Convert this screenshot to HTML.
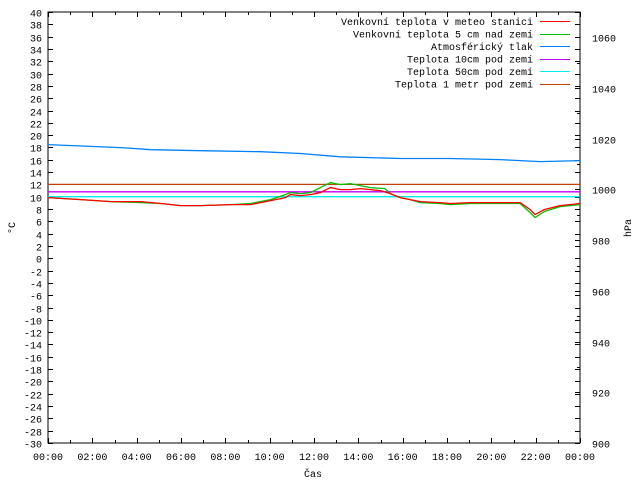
<!DOCTYPE html>
<html><head><meta charset="utf-8"><style>
body{margin:0;background:#fff}
svg text{font-family:"Liberation Mono",monospace;font-size:10px;fill:#000}
</style></head><body>
<svg id="chart" width="640" height="480" xmlns="http://www.w3.org/2000/svg">
<g id="axes"></g>
<g id="series"></g>
<g id="legend"></g>
<text x="313" y="477" text-anchor="middle">Čas</text>
<text transform="translate(15,228) rotate(-90)" text-anchor="middle">°C</text>
<text transform="translate(631,228) rotate(-90)" text-anchor="middle">hPa</text>
</svg>
<script>
const xTickLabels=["00:00","02:00","04:00","06:00","08:00","10:00","12:00","14:00","16:00","18:00","20:00","22:00","00:00"];
const redHours=[0,1.49,2.84,4.19,5.09,5.99,6.89,8.24,9.14,10.04,10.71,10.94,11.39,11.84,12.29,12.74,13.19,13.64,14.09,14.54,14.99,15.44,15.89,16.34,16.79,17.69,18.14,19.04,20.4,21.3,21.75,21.97,22.4,23.1,24];
const redVals=[9.86,9.53,9.21,9.21,8.89,8.56,8.56,8.72,8.72,9.37,9.86,10.35,10.18,10.35,10.67,11.48,11.16,11.16,11.32,11.16,11.0,10.51,9.86,9.53,9.21,9.05,8.89,9.05,9.05,9.05,7.92,7.1,7.92,8.56,8.89];
const greenHours=[0,1.49,2.84,4.19,5.09,5.99,6.89,8.24,9.14,10.04,10.71,10.94,11.39,11.84,12.29,12.74,13.19,13.64,14.09,14.54,15.2,15.44,15.89,16.34,16.79,17.69,18.14,19.04,20.4,21.3,21.75,21.97,22.4,23.1,24];
const greenVals=[9.86,9.53,9.21,9.05,8.89,8.56,8.56,8.72,8.89,9.53,10.35,10.67,10.51,10.67,11.48,12.29,11.97,12.13,11.8,11.48,11.32,10.51,9.86,9.53,9.05,8.89,8.72,8.89,8.89,8.89,7.43,6.62,7.6,8.4,8.72];
const pressHours=[0,3.29,4.64,6.89,9.59,11.39,13.19,15.89,18.14,20.4,22.2,24];
const pressVals=[1017.7,1016.5,1015.7,1015.3,1014.9,1014.2,1012.9,1012.2,1012.2,1011.8,1011.0,1011.4];
const t10Vals=[10.8,10.8];
const t50Vals=[10.0,10.0];
const t1mVals=[12.0,12.0];
const flatHours=[0,24];
const legendLabels=["Venkovní teplota v meteo stanici","Venkovní teplota 5 cm nad zemí","Atmosférický tlak","Teplota 10cm pod zemí","Teplota 50cm pod zemí","Teplota 1 metr pod zemí"];
const legendColors=["#ff0000","#00c000","#0080ff","#c000ff","#00eeee","#c04000"];

const L=48,R=580,T=12,B=443;
const xs=h=>L+h/24*(R-L);
const ys=v=>T+(40-v)/70*(B-T);
const y2s=p=>T+(1070-p)/170*(B-T);
const NS="http://www.w3.org/2000/svg";
function mk(parent,tag,attrs){const e=document.createElementNS(NS,tag);for(const k in attrs)e.setAttribute(k,attrs[k]);parent.appendChild(e);return e;}
const ax=document.getElementById('axes');
let fr=mk(ax,'rect',{x:L,y:T,width:R-L,height:B-T,fill:'none',stroke:'#000','stroke-width':1});


for(let v=-30;v<=40;v+=2){
  const y=Math.round(ys(v))+0.5;
  let t=mk(ax,'path',{d:`M${L} ${y}h5M${R} ${y}h-5`,stroke:'#000'});
  
  
  let tx=mk(ax,'text',{x:42,y:y+4,'text-anchor':'end'});tx.textContent=v;
  
  
}
for(let p=900;p<=1070;p+=10){
  const y=Math.round(y2s(p))+0.5;
  let t=mk(ax,'path',{d:`M${R} ${y}h-${p%20==0?5:3}`,stroke:'#000'});
  
  
  if(p%20==0){let tx=mk(ax,'text',{x:592,y:y+4});tx.textContent=p;
  
  }
}
for(let h=0;h<=24;h++){
  const x=Math.round(xs(h))+0.5;
  let t=mk(ax,'path',{d:`M${x} ${B}v-${h%2?3:5}M${x} ${T}v${h%2?3:5}`,stroke:'#000'});
  
  
}
xTickLabels.forEach((s,i)=>{
  let tx=mk(ax,'text',{x:xs(i*2),y:460,'text-anchor':'middle'});tx.textContent=s;
  
  
});
const se=document.getElementById('series');
function line(hs,vs,f,color,name){
  const d=hs.map((h,i)=>(i?'L':'M')+xs(h).toFixed(1)+' '+f(vs[i]).toFixed(1)).join('');
  let p=mk(se,'path',{d:d,fill:'none',stroke:color,'stroke-width':1.3});
  
  
}
line(flatHours,t1mVals,ys,legendColors[5],'series-temp-1m');
line(flatHours,t10Vals,ys,legendColors[3],'series-temp-10cm');
line(flatHours,t50Vals,ys,legendColors[4],'series-temp-50cm');
line(pressHours,pressVals,y2s,legendColors[2],'series-pressure');
line(greenHours,greenVals,ys,legendColors[1],'series-temp-5cm');
line(redHours,redVals,ys,legendColors[0],'series-temp-station');
const lg=document.getElementById('legend');
legendLabels.forEach((s,i)=>{
  const y=21+i*12.5;
  let tx=mk(lg,'text',{x:533,y:y+4,'text-anchor':'end'});tx.textContent=s;
  
  
  let sw=mk(lg,'path',{d:`M540 ${Math.round(y)+0.5}h30`,stroke:legendColors[i]});
  
  
});
</script>
</body></html>
